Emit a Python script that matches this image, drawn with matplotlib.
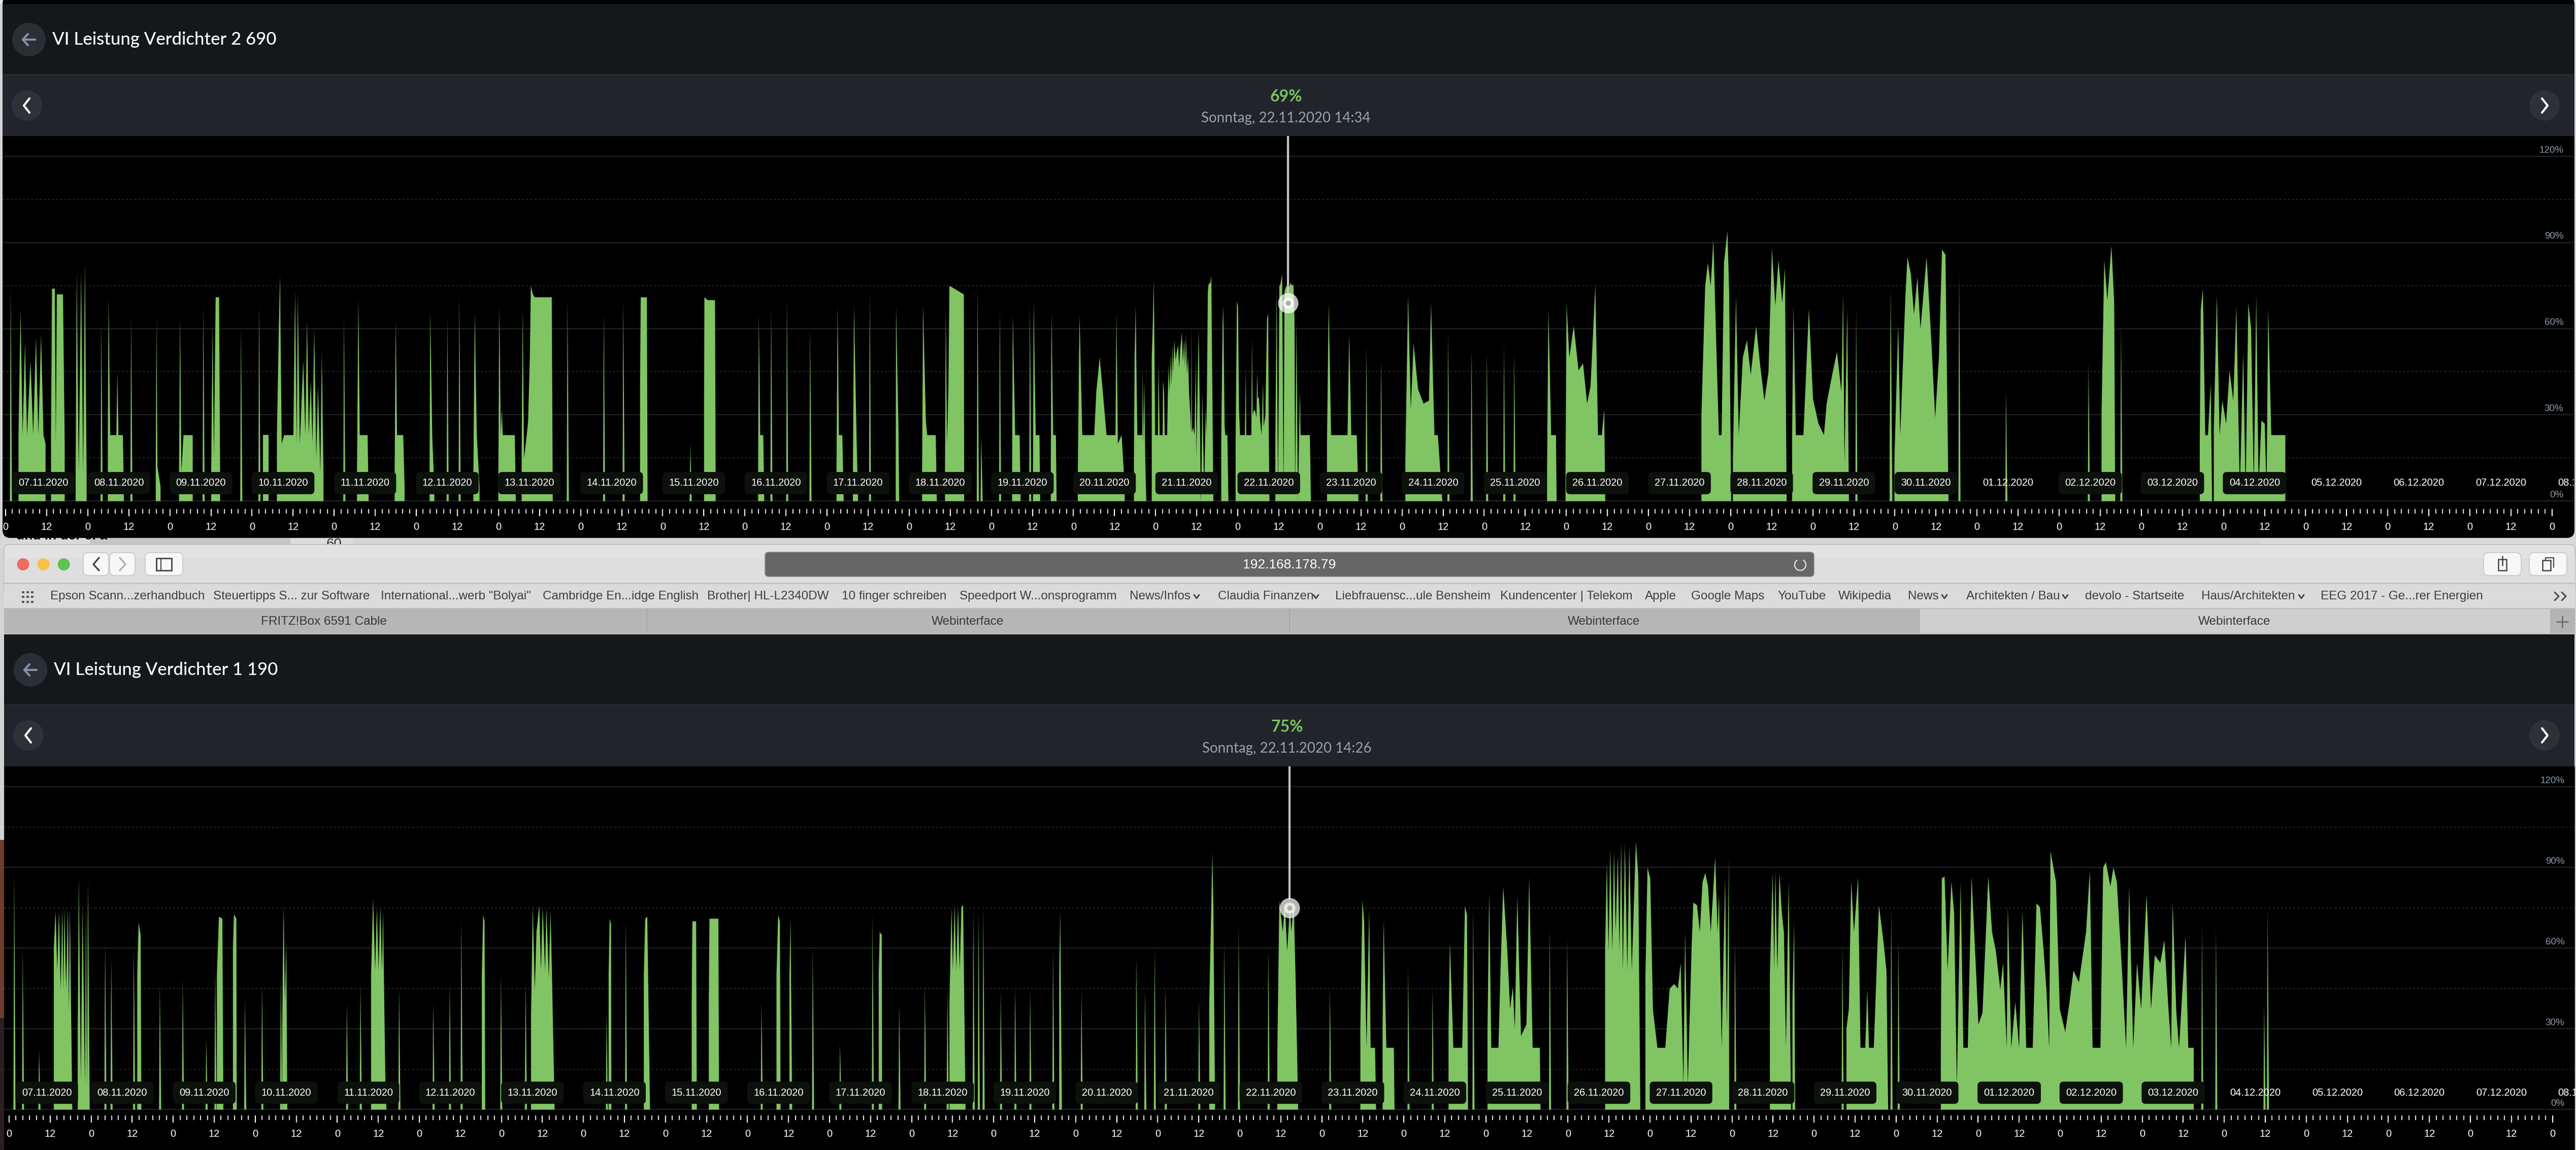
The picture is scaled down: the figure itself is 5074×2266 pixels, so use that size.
import matplotlib
matplotlib.use('Agg')
import matplotlib.pyplot as plt
from matplotlib.patches import Rectangle, FancyBboxPatch, Circle

plt.rcParams['font.family'] = ['Lato', 'DejaVu Sans']

GREEN = '#80c463'
SANS = 'Liberation Sans'
W, H = 5074, 2266

dates = ['07.11.2020', '08.11.2020', '09.11.2020', '10.11.2020', '11.11.2020', '12.11.2020',
         '13.11.2020', '14.11.2020', '15.11.2020', '16.11.2020', '17.11.2020', '18.11.2020',
         '19.11.2020', '20.11.2020', '21.11.2020', '22.11.2020', '23.11.2020', '24.11.2020',
         '25.11.2020', '26.11.2020', '27.11.2020', '28.11.2020', '29.11.2020', '30.11.2020',
         '01.12.2020', '02.12.2020', '03.12.2020', '04.12.2020', '05.12.2020', '06.12.2020',
         '07.12.2020', '08.12.2020']
# these date labels have no dark box behind them
top_no_box = ['01.12.2020', '05.12.2020', '06.12.2020', '07.12.2020', '08.12.2020']
bottom_no_box = ['04.12.2020', '05.12.2020', '06.12.2020', '07.12.2020', '08.12.2020']

# hours since 07.11. 00:00 and percent
top_spike_h = [1.4, 27.9, 36.6, 57.7, 68.7, 74, 98.8, 129, 132.5, 164.1, 174.7, 180.4, 200, 223.6, 228.2,
               235, 252.4, 283.9, 285, 290.4, 299.2, 397.5, 401.8, 421.4, 428.2, 432.7, 437.7, 440.7,
               540.6, 570.7, 584.4, 608.5, 618]
top_spike_v = [75, 62, 64, 68, 60, 68, 64, 64, 71.5, 70, 66, 70, 20, 68, 71,
               60, 72, 75, 23, 67, 69, 54, 49, 58.5, 53.5, 51.7, 54.5, 51.7,
               67, 80, 38, 48.6, 61]

top_runs_h = [
    [3.7, 4.3, 4.9, 5.6, 6.2, 7.2, 8, 8.8, 9.5, 10.3, 11, 11.6],
    [13.2, 13.5, 14.3, 14.6, 14.9, 16.7, 17.0, 17.2],
    [20.4, 20.7, 21.3, 22, 22.6, 23.1, 23.6],
    [29.8, 30, 30.5, 32.3, 32.6, 32.9, 34.2, 34.5],
    [43.8, 44, 44.3, 45.2],
    [50.6, 50.9, 51.3, 51.9, 54.6],
    [60, 60.4, 60.8, 61.3, 62.3, 62.6],
    [75.2, 76.8],
    [79.2, 79.8, 80.1, 80.6, 81.3, 82.7, 84, 84.5, 85, 85.3, 85.9, 86.9, 87.5, 88, 88.5, 89.1, 89.6,
     90.1, 90.7, 91.2, 91.9, 92.3, 92.8],
    [102.6, 103, 103.4, 103.6, 105.7, 106],
    [113.6, 113.9, 114.3, 116.1, 116.5],
    [123.8, 124, 124.6, 125.2],
    [136.6, 137, 137.6, 138.4],
    [143.9, 144.2, 144.6, 144.9, 145.2, 148.7, 149],
    [150.7, 151, 151.4, 152.2, 152.6, 153.1, 153.4, 154, 154.5, 159.5, 159.8],
    [185.3, 185.5, 186.5, 187.3, 187.5],
    [204.0, 204.1, 205, 207.2, 207.4],
    [219.8, 220, 220.4, 221.3, 221.6],
    [242.7, 243, 243.4, 244.4, 244.8],
    [247.5, 247.8, 248.6, 249],
    [260, 260.1, 260.8, 261],
    [267.7, 268, 268.8, 269.2, 271.7, 272],
    [274.4, 274.6, 275, 275.4, 275.7, 279.9, 280],
    [294, 294.2, 294.9, 296.2, 296.5],
    [300.1, 300.3, 300.9, 302, 302.2],
    [305.3, 305.5, 306, 306.8, 307],
    [313.2, 313.7, 314.5, 318, 318.6, 319.6, 320.8, 321.6, 322, 324.2, 324.5, 324.9, 326, 326.9],
    [329.6, 329.8, 330.1, 330.4, 330.6, 332, 332.1, 332.3, 332.6, 332.9, 333.2],
    [334.8, 335.1, 335.4, 335.8, 336.6, 336.8, 337.1, 338, 338.1, 338.4, 338.6, 339.3, 339.5, 339.8, 340,
     340.4, 340.6, 340.9, 341.1, 341.4, 341.8, 342.1, 342.5, 342.8, 343.1, 343.6, 343.9, 344.3, 344.5, 344.8,
     345.1, 345.4, 345.7, 346.1, 346.3, 346.4, 346.55, 346.9, 347.3, 347.7, 347.85, 348.2, 348.5, 348.9, 349.15,
     349.3, 349.6, 350.1, 350.6, 350.8, 351.2, 351.4, 351.9, 352.2, 352.8],
    [355.1, 355.5, 355.7, 356.1, 356.3, 356.9, 357.2],
    [359.3, 359.7, 360, 360.3, 360.6, 362, 362.3, 362.4, 363.9, 364.1, 364.3, 364.7, 365.1, 365.4, 365.6,
     365.8, 366.1, 366.5, 366.9, 367.3, 367.5, 368, 368.5, 368.8, 369, 369.2],
    [370.9, 371.3, 371.7, 372.1, 372.4, 372.9, 373.3, 373.6, 374.1, 374.6, 375.4, 375.8, 376.2, 376.5, 376.7,
     377.1, 377.5, 378.1, 378.3, 381, 381.3],
    [386, 386.5, 387.2, 392, 392.5, 393.1, 394.7, 395.2],
    [408.9, 409.7, 410.5, 411.3, 412.6, 414.2, 415.8, 416.4, 417.4, 418.4, 419.7],
    [450.3, 450.7, 451.5, 452.9, 453.1],
    [455.7, 456, 456.8, 458.1, 459.5, 460.8, 462, 463, 464.4, 465.2, 466.3, 467, 467.3],
    [495.4, 496.5, 497.3, 498.1, 498.9, 499.7, 500.5, 501.3, 502, 503, 503.5, 504.1],
    [504.6, 505.5, 506.3, 507.5, 508.7, 509.8, 511.4, 512.5, 513.8, 515, 516, 517, 517.9, 519, 519.8, 520.3],
    [521.9, 522.3, 523, 525.2, 526.8, 528, 529.6, 531.2, 532, 533.6, 535, 536.3, 536.8, 537.2, 538, 538.5],
    [550.4, 550.7, 551.2],
    [551.8, 552.9, 553.5, 555, 555.6, 556.6, 557.5, 558.5, 559.4, 561.2, 562.6, 563.7, 564.8, 565.7, 566.7, 567.6],
    [612.3, 613.1, 614, 615.2, 616, 616.3],
    [641, 641.3, 641.9, 642.6, 643.4, 644.2, 644.6],
    [645.1, 646, 646.8, 647.6, 648.7, 649.7, 650.8, 651.7, 652.7, 653.7, 654.4, 655.2, 656, 656.8,
     657.5, 658.2, 659, 660, 660.5, 661, 661.9, 666],
]
top_runs_v = [
    [23, 66.6, 23, 55, 23, 49, 23, 57, 23, 58, 23, 20],
    [23, 74, 74, 20, 72, 72, 40, 20],
    [10, 80, 10, 79, 10, 83, 10],
    [23, 71, 23, 23, 45, 23, 23, 0],
    [10, 64, 12, 5],
    [10, 64, 10, 23, 23],
    [10, 62, 15, 71, 71, 10],
    [23, 23],
    [23, 62, 78.6, 20, 23, 23, 23, 73, 20, 72, 20, 49, 23, 63, 23, 42, 20,
     60, 15, 40, 10, 52, 10],
    [10, 71, 23, 23, 23, 0],
    [10, 63, 23, 23, 5],
    [10, 66, 22, 5],
    [10, 65.6, 23, 5],
    [10, 68, 23, 32, 23, 23, 0],
    [15, 66.8, 15, 23, 28, 50, 75, 72, 71, 71, 0],
    [40, 71, 71, 71, 0],
    [30, 71, 70, 70, 0],
    [10, 65, 23, 23, 0],
    [10, 68, 23, 23, 0],
    [10, 68, 20, 0],
    [10, 68, 25, 0],
    [10, 68, 28, 23, 23, 0],
    [10, 67, 20, 40, 75, 72, 0],
    [10, 65, 23, 23, 0],
    [10, 70, 23, 23, 0],
    [10, 66, 23, 23, 0],
    [10, 65, 23, 23, 38, 50, 34, 23, 23, 23, 66, 20, 23, 5],
    [15, 50, 68, 40, 23, 23, 47, 20, 42, 15, 0],
    [50, 61, 77, 23, 23, 48.7, 23, 23, 42.2, 37.8, 23, 23, 36.6, 47.8, 37.8,
     51.3, 40, 54.3, 44.8, 56, 49, 51.9, 54.3, 46.3, 52.5, 58.7, 48.4, 56.3, 46.6, 57.5,
     44.2, 50.7, 37.8, 30, 23.9, 61, 23.9, 25.7, 23, 49.3, 15, 39, 59.9, 26, 0,
     5, 38, 3, 33, 23, 73, 75.5, 76, 78.4, 0],
    [20, 61, 68, 26, 23, 23, 0],
    [20, 69.6, 67.8, 32, 23, 23, 46.6, 23, 23, 56.6, 30, 32, 31, 29, 44.8,
     36, 36, 27.8, 23, 41.3, 26, 29.8, 63.7, 65.2, 23, 0],
    [20, 73.7, 3, 75, 75.5, 79, 3, 73, 75, 73.7, 76, 75, 75.5, 64, 2.4,
     63, 0, 38.4, 23, 23, 0],
    [20, 69, 23, 23, 58, 23, 23, 0],
    [15, 71.5, 32, 55, 39, 34, 35, 69, 23, 23, 0],
    [10, 67, 23, 23, 0],
    [10, 69, 50, 61, 45.5, 48, 34, 40, 75, 23, 23, 32, 0],
    [30, 75, 83, 75, 91, 56, 23, 23, 83, 94, 73, 0],
    [15, 71.5, 23, 50, 56, 44, 61, 48, 35, 45, 88, 68, 84, 69, 81, 0],
    [23, 68, 23, 23, 67, 35.6, 27, 23, 34, 44, 52, 38, 72, 13, 66.6, 0],
    [20, 74, 0],
    [15, 61.6, 23, 71.5, 85, 79, 65, 78, 60, 85, 55, 29, 50, 87.6, 85.8, 0],
    [30, 84, 70, 89, 69, 0],
    [20, 66.6, 74, 23, 23, 41, 0],
    [25, 71.5, 23, 35, 27, 45.5, 35, 67.8, 3, 51.7, 3, 69, 60, 5,
     72, 5, 28, 27, 3, 67, 23, 23],
]

bottom_spike_h = [1.4, 3.9, 8.7, 28, 29.8, 36.4, 44, 50.7, 57.6, 60.2, 68.9, 73.9, 79.4, 98.7, 102.7, 114,
                  124, 128.8, 132.2, 143.8, 151, 174.7, 180.3, 220, 235, 243, 252.5, 260.3,
                  267.8, 274.4, 282, 283.5, 284.9, 290, 294.2, 298.6, 305.3, 313.6, 329.7, 332.2, 335, 338.2,
                  348, 355.4, 359.6, 368.3, 386.3, 409.2, 416.3, 428.2, 450.6, 455.7, 504.8, 536.2, 550.5,
                  552.6, 641.4, 645.5, 659.6, 660.6]
bottom_spike_v = [89, 60, 22, 62.4, 56.7, 60, 46.7, 48.9, 26, 51.7, 41.7, 46.7, 49.6, 39.6, 47.4, 45.3,
                  39.6, 46.7, 71, 50.3, 47.4, 36, 70.6, 40, 60.3, 24.6, 73, 38.9,
                  46.7, 45, 74.6, 73.9, 75.7, 44.6, 45.3, 44.6, 58.9, 44.6, 57.4, 44.6, 59.6, 46,
                  41, 62.4, 68.4, 59.6, 45.3, 53, 45.3, 75.3, 67.7, 63.9, 63, 61.7, 75.6,
                  63, 68.4, 67.4, 38.9, 74.6]

bottom_runs_h = [
    [13, 13.5, 14, 14.5, 15, 15.5, 15.8, 16.1, 16.6, 17.1, 17.4, 17.7, 18.4],
    [20, 20.3, 20.9, 21.4, 22.1, 22.4, 22.7, 23, 23.5],
    [37.4, 37.8, 38.4, 38.6],
    [60.7, 61.3, 62.3, 62.6],
    [65.4, 65.7, 66.4, 66.5],
    [79.8, 80.2, 80.6, 81, 81.3],
    [105.8, 106.4, 107, 107.5, 108, 108.5, 109, 109.3, 110, 110.3],
    [138.2, 138.6, 139, 139.2],
    [152.6, 153.1, 153.7, 154.2, 155, 155.5, 156, 156.7, 157.1, 157.8, 158.3, 158.7, 159.5],
    [175.3, 175.6, 176, 176.1],
    [185.6, 186, 186.6, 187.4],
    [199.6, 199.8, 200.9, 201.1],
    [204.6, 204.8, 207.4, 207.6],
    [224.4, 224.9, 225.4, 225.6],
    [228.2, 228.5, 229],
    [254.3, 254.6, 255.2, 255.3],
    [275, 275.6, 276, 276.5, 277, 277.5, 278, 278.5, 279, 279.7],
    [307.1, 307.4, 307.9],
    [351, 351.6, 351.9, 352.2, 352.7],
    [370.9, 371.5, 372.5, 373.1, 373.8, 374.6, 375, 375.7, 376.2, 376.7, 377],
    [395.2, 395.8, 396.3, 397, 397.8, 398.2, 399.5, 399.8],
    [401.7, 402, 402.8, 405, 405.2],
    [421, 421.4, 422.4, 425, 425.8, 426.4, 426.7],
    [432.4, 432.9, 433.5, 435.6, 436.2, 437, 438.2, 439, 439.8, 440.4, 441.1, 442.2, 443.8, 444.6, 445.6, 447.7, 447.9],
    [466.8, 467.3, 467.8, 468.3, 468.9, 469.4, 469.9, 470.5, 471, 471.5, 472, 472.6, 473.3, 473.9, 474.6, 475.8, 476.5, 477.1],
    [478.6, 479.2, 480, 480.8, 482.1, 484.4, 485.7, 487, 488.1, 488.9, 489.7, 490.2, 491, 492.1, 492.6, 493.7,
     494.5, 495.3, 496.1, 496.9, 497.7, 499, 499.7, 500.1, 500.9, 501.9, 502.4, 503, 503.1],
    [515, 515.8, 516.3, 516.6, 517.2, 517.8, 518.5, 519.1, 519.7, 520.5, 521.2],
    [521.6, 522.1, 522.4],
    [537.4, 538.1, 538.8, 539.6, 540.8, 541.5, 542.9, 543.5, 544, 545.4, 546.9, 548.3, 549.1, 549.6],
    [565, 565.3, 566.1, 567, 568.1, 568.9, 569.7, 570.8, 571.6, 572.9, 574, 575.3, 576, 577.2, 578.9, 580, 581.1,
     582.4, 583.2, 584.3, 584.6, 585.6, 586.8, 587.9, 588.9, 590, 591.9, 593, 594, 595.1, 595.9, 596.7, 597.1,
     598.7, 599.8, 601.4, 602.7, 603.8, 605.4, 607.5, 608.6, 609.4, 611.7, 612.5, 613.3, 614.6, 615.5, 616.5,
     618, 619.2, 620.1, 621.3, 622.4, 623.6, 625.2, 626.5, 627.6, 629.2, 630.4, 631.6, 632.4, 632.8, 633.9,
     634.7, 636.6, 637.4, 639],
]
bottom_runs_v = [
    [60, 74, 51.7, 74, 44.6, 74.6, 44.6, 75, 44.6, 75, 37, 74.6, 0],
    [30, 86.7, 11, 76, 9, 74.6, 9, 85, 0],
    [50, 69.6, 65, 0],
    [50, 71.7, 71, 0],
    [60, 72.7, 71, 0],
    [30, 76, 40, 62, 0],
    [50, 78.6, 51.7, 75.3, 51.7, 75.7, 51.7, 73.9, 9, 0],
    [50, 72.4, 70, 0],
    [35, 75.7, 44.6, 66, 76, 51.7, 75.3, 51.7, 75, 48.9, 73.9, 51.7, 0],
    [50, 71, 69, 0],
    [50, 71, 71.7, 0],
    [40, 70, 70, 0],
    [40, 71, 71, 0],
    [50, 72.4, 70, 0],
    [50, 71.7, 0],
    [50, 66, 65, 0],
    [40, 75.3, 51.7, 76, 51.7, 75.7, 51.7, 75.3, 76, 0],
    [50, 73.9, 0],
    [40, 76, 95.6, 76, 0],
    [20, 77.7, 66, 76.7, 58.9, 76, 66, 76.7, 51.7, 21.7, 0],
    [30, 77.9, 70, 23, 74.6, 23, 23, 0],
    [30, 70.6, 23, 23, 0],
    [30, 62.4, 23, 23, 75.7, 72.4, 0],
    [30, 80.7, 23, 23, 51.7, 83, 58.9, 37.4, 45.7, 30, 79.6, 27.4, 31.7, 86.4, 23, 23, 0],
    [60, 91.7, 58.9, 96.7, 58.9, 96, 66, 94.6, 58.9, 99, 51.7, 98.9, 51.7, 98, 51.7, 99.6, 87, 0],
    [50, 90, 86, 37, 23, 23, 45, 46.7, 45, 54.6, 9, 66, 9, 60, 77, 76,
     66, 84.6, 88, 83, 66, 93.9, 66, 80, 23, 86, 30, 93.9, 0],
    [50, 88, 51.7, 88.9, 51.7, 88, 73, 66, 23, 85, 0],
    [40, 70, 0],
    [30, 37.4, 84.9, 66, 86.3, 23, 23, 44.6, 23, 23, 76, 61.7, 51.7, 0],
    [20, 86, 86.7, 51.7, 84.9, 73, 9, 84.6, 23, 23, 86.7, 51.7, 31.7, 36, 86.7, 66, 59,
     44.6, 54.6, 23, 76, 23, 40, 23, 73.9, 23, 23, 76.7, 75.3, 59, 44.6, 23, 96,
     84.6, 37.4, 28.9, 40.3, 51.7, 47.4, 66, 88.9, 23, 23, 90, 92, 83, 90, 84.6,
     51.7, 23, 83, 23, 54.6, 37.4, 80, 37.4, 57.4, 54.6, 63, 37.4, 23, 77.4, 36,
     23, 64.6, 23, 23],
]

y_ticks = [0, 30, 60, 90, 120]
y_dotted = [15, 45, 75, 105]

top_cursor = (374.7, 69)
bottom_cursor = (374.6, 75)

bookmarks = [(99, 'Epson Scann...zerhandbuch'), (420, 'Steuertipps S... zur Software'),
             (750, 'International...werb "Bolyai"'), (1069, 'Cambridge En...idge English'),
             (1393, 'Brother| HL-L2340DW'), (1658, '10 finger schreiben'),
             (1890, 'Speedport W...onsprogramm'), (2225, 'News/Infos'), (2399, 'Claudia Finanzen'),
             (2630, 'Liebfrauensc...ule Bensheim'), (2955, 'Kundencenter | Telekom'), (3240, 'Apple'),
             (3331, 'Google Maps'), (3501, 'YouTube'), (3621, 'Wikipedia'), (3758, 'News'),
             (3873, 'Architekten / Bau'), (4107, 'devolo - Startseite'), (4336, 'Haus/Architekten'),
             (4571, 'EEG 2017 - Ge...rer Energien')]
bookmark_arrows = [2357, 2592, 3830, 4068, 4533]   # the little v after folder names
tabs = [(638, 'FRITZ!Box 6591 Cable'), (1906, 'Webinterface'), (3159, 'Webinterface'), (4401, 'Webinterface')]


fig = plt.figure(figsize=(W / 100, H / 100), dpi=100, facecolor='#d4d4d4')
bg = fig.add_axes([0, 0, 1, 1], zorder=0)
bg.set_xlim(0, W)
bg.set_ylim(H, 0)
bg.axis('off')


def rect(x0, y0, x1, y1, color, z=1):
    bg.add_patch(Rectangle((x0, y0), x1 - x0, y1 - y0, fc=color, ec='none', zorder=z))


def button(x0, y0, x1, y1, color='#f7f7f7', z=3, ec='#c6c6c6', r=10):
    bg.add_patch(FancyBboxPatch((x0 + r, y0 + r), x1 - x0 - 2 * r, y1 - y0 - 2 * r,
                                boxstyle='round,pad=%d,rounding_size=%d' % (r, r),
                                fc=color, ec=ec, lw=1.2, zorder=z))


def lines(xs, ys, color, lw=2.2, z=5):
    bg.plot(xs, ys, color=color, lw=lw, zorder=z, solid_capstyle='round', solid_joinstyle='round')


def header(left, top, sub, chart, title, value, stamp, tx, text_y):
    rect(left, top, 5071, sub, '#14181b', 2)
    rect(left, sub, 5071, chart, '#21252b', 2)
    rect(left, sub, 5071, sub + 2, '#2a2e33', 2)
    cy = (top + sub) / 2 + 1
    py = (sub + chart) / 2 + (1 if top < 100 else 0)
    bg.add_patch(Circle((left + 52, cy), 33, fc='#2a2f36', ec='none', zorder=3))
    lines([left + 64, left + 40], [cy, cy], '#8492a6', 3)
    lines([left + 50, left + 40, left + 50], [cy - 11, cy, cy + 11], '#8492a6', 3)
    bg.text(left + 98, cy, title, color='white', fontsize=25, fontweight='medium', va='center', zorder=5)
    for x, d in ((left + 48, -1), (5012, 1)):
        bg.add_patch(Circle((x, py), 30, fc='#2d323a', ec='none', zorder=3))
        lines([x - d * 5, x + d * 6, x - d * 5], [py - 14, py, py + 14], 'white', 3)
    bg.text(tx, text_y[0], value, color='#7cc35f', fontsize=23, fontweight='bold', ha='center', va='center', zorder=5)
    bg.text(tx, text_y[1], stamp, color='#97a3af', fontsize=20, ha='center', va='center', zorder=5)


# stuff around the two screenshots
rect(0, 0, W, 8, '#e3e3e3')
rect(0, 1060, 177, 1080, '#d9d9d9')
rect(177, 1060, 572, 1080, '#c6c6c6')
rect(572, 1060, 695, 1080, '#dcdcdc')
rect(4450, 1060, W, 1080, '#d9d9d9')
bg.text(32, 1056, 'und in der 5. a', color='black', fontsize=19, fontweight='bold', family=SANS,
        va='center', zorder=1.5)
bg.text(658, 1073, '60', color='#333333', fontsize=20, family=SANS, ha='center', va='center', zorder=1.5)
rect(0, 1250, 8, 1655, '#d2d2d2')
rect(0, 1655, 8, 2006, '#6e3d2c')
rect(0, 2006, 8, H, '#2a1f22')

# safari window
button(8, 1073, 5072, 1170, '#e2e2e2', 2, '#bdbdbd', 8)
rect(8, 1100, 5072, 1148, '#dedede', 2)
rect(8, 1148, 5072, 1151, '#c4c4c4', 2)
rect(8, 1151, 5072, 1198, '#dbdbdb', 2)
rect(8, 1198, 5072, 1200, '#bcbcbc', 2)
rect(8, 1200, 3782, 1248, '#b6b6b6', 2)
rect(3782, 1200, 5023, 1248, '#cfcfcf', 2)
rect(5023, 1200, 5072, 1248, '#b4b4b4', 2)
rect(8, 1248, 5072, 1250, '#c4c4c4', 2)
for x in (1273, 2539):
    rect(x, 1200, x + 1.5, 1248, '#a4a4a4', 3)
for x, c in ((45.5, '#ef6a5f'), (85.6, '#f9bf4e'), (125.7, '#5ec454')):
    bg.add_patch(Circle((x, 1112), 12, fc=c, ec='none', zorder=3))
button(164, 1089, 214, 1134)
button(216, 1089, 266, 1134)
button(286, 1089, 360, 1134)
lines([195, 184, 195], [1099, 1112, 1124], '#444444', 2.4)
lines([236, 247, 236], [1099, 1112, 1124], '#b0b0b0', 2.4)
bg.add_patch(Rectangle((308, 1100), 30, 24, fc='none', ec='#444444', lw=2, zorder=5))
lines([317, 317], [1100, 1124], '#444444', 1.5)
button(1507, 1088, 3573, 1136, '#666666', 3, '#8a8a8a', 7)
bg.text(2540, 1113, '192.168.178.79', color='white', fontsize=19, family=SANS, ha='center', va='center', zorder=5)
bg.add_patch(matplotlib.patches.Arc((3546, 1113), 22, 22, theta1=-60, theta2=240, color='#d8d8d8', lw=1.8, zorder=5))
button(4892, 1089, 4966, 1134)
button(4982, 1089, 5056, 1134)
bg.add_patch(Rectangle((4921, 1102), 16, 22, fc='none', ec='#444444', lw=1.8, zorder=5))
lines([4929, 4929], [1096, 1114], '#444444', 1.8)
bg.add_patch(Rectangle((5008, 1104), 16, 20, fc='none', ec='#444444', lw=1.8, zorder=5))
lines([5014, 5014, 5030, 5030], [1104, 1099, 1099, 1118], '#444444', 1.5)

for gx in (43, 52, 61):
    for gy in (1165, 1174, 1184):
        rect(gx, gy, gx + 4.5, gy + 4, '#555555', 3)
for x, name in bookmarks:
    bg.text(x, 1175, name, color='#3f3f3f', fontsize=17.5, family=SANS, va='center', zorder=5)
for x in bookmark_arrows:
    lines([x - 5, x, x + 5], [1172, 1179, 1172], '#3f3f3f', 2)
lines([5032, 5040, 5032], [1167, 1175, 1183], '#3f3f3f', 2)
lines([5046, 5054, 5046], [1167, 1175, 1183], '#3f3f3f', 2)
for x, name in tabs:
    bg.text(x, 1225, name, color='#383838', fontsize=17.5, family=SANS, ha='center', va='center', zorder=5)
lines([5047, 5047], [1214, 1236], '#666666', 1.8)
lines([5036, 5058], [1225, 1225], '#666666', 1.8)

# dark panels
bg.add_patch(FancyBboxPatch((21, 8), 5034, 1036, boxstyle='round,pad=16,rounding_size=16', fc='#000000', ec='none', zorder=1.8))
header(5, 8, 146, 268, 'VI Leistung Verdichter 2 690', '69%', 'Sonntag, 22.11.2020 14:34', 2533, (190, 233))
header(8, 1250, 1388, 1510, 'VI Leistung Verdichter 1 190', '75%', 'Sonntag, 22.11.2020 14:26', 2535, (1432, 1475))
rect(8, 1510, 5072, H, '#000000', 1.8)


def chart(px_left, px_right, px_top, px_bottom, y0, y120, x0, px_per_day, spike_h, spike_v, runs_h, runs_v,
          cursor, tick_v, no_box):
    ax = fig.add_axes([px_left / W, 1 - px_bottom / H, (px_right - px_left) / W, (px_bottom - px_top) / H], zorder=2)
    ax.patch.set_alpha(0)
    per_pct = (y0 - y120) / 120
    per_hour = px_per_day / 24
    ax.set_xlim((px_left - x0) / per_hour, (px_right - x0) / per_hour)
    ax.set_ylim((y0 - px_bottom) / per_pct, (y0 - px_top) / per_pct)

    for v in y_ticks:
        ax.axhline(v, color='#1f2225', lw=1.6, zorder=1)
        ax.annotate('%d%%' % v, xy=(1, v), xycoords=ax.get_yaxis_transform(), xytext=(-15, 8.6),
                    textcoords='offset points', ha='right', va='center', color='#8a97a5', fontsize=13.5,
                    family=SANS, zorder=6)
    for v in y_dotted:
        ax.axhline(v, color='#26292b', lw=1.3, ls=(0, (2, 2.5)), zorder=1)

    # every run and spike is a plain filled polygon
    for h, v in zip(runs_h, runs_v):
        ax.fill_between([h[0]] + h + [h[-1]], 0, [0] + v + [0], color=GREEN, lw=0, zorder=2)
    for h, v in zip(spike_h, spike_v):
        ax.fill_between([h - 0.22, h, h + 0.4], 0, [0, v, 0], color=GREEN, lw=0, zorder=2)

    for i, name in enumerate(dates):
        hour = 11 if i == 0 else i * 24 + 9.08
        box = None
        if name not in no_box:
            box = dict(boxstyle='round,pad=0.62,rounding_size=0.4', fc='#0d110c', ec='none')
        ax.text(hour, 6.2, name, color='white', fontsize=14.4, family=SANS, ha='center', va='center',
                zorder=4, clip_on=True, bbox=box)

    # cursor
    ch, cv = cursor
    ax.plot([ch, ch], [cv + 3.5, 200], color='#c8c8c8', lw=2.9, zorder=5)
    ax.plot([ch], [cv], 'o', ms=28.8, mfc='white', mec='none', alpha=0.72, zorder=6)
    ax.plot([ch], [cv], 'o', ms=15.8, mfc='white', mec='none', alpha=0.7, zorder=7)
    ax.plot([ch], [cv], 'o', ms=7.2, mfc='#a4b494', mec='none', zorder=8)

    for s in ax.spines.values():
        s.set_visible(False)
    ax.spines['bottom'].set_position(('data', tick_v))
    ax.set_yticks([])
    ax.set_xticks(range(0, 745, 12))
    ax.set_xticklabels(['0' if h % 24 == 0 else '12' for h in range(0, 745, 12)], family=SANS)
    ax.set_xticks(range(0, 745, 2), minor=True)
    ax.tick_params(axis='x', which='major', length=10, width=1.5, color='white', direction='out',
                   labelsize=14.4, labelcolor='white', pad=9)
    ax.tick_params(axis='x', which='minor', length=6.5, width=1.4, color='#e8e8e8', direction='out')
    return ax


chart(5, 5070, 268, 1060, 987, 308, 11, 161.8, top_spike_h, top_spike_v, top_runs_h, top_runs_v,
      top_cursor, -2.8, top_no_box)
chart(8, 5072, 1510, 2266, 2186, 1550, 18, 161.6, bottom_spike_h, bottom_spike_v, bottom_runs_h, bottom_runs_v,
      bottom_cursor, -2.3, bottom_no_box)

fig.savefig('out.png', dpi=100, facecolor=fig.get_facecolor())
